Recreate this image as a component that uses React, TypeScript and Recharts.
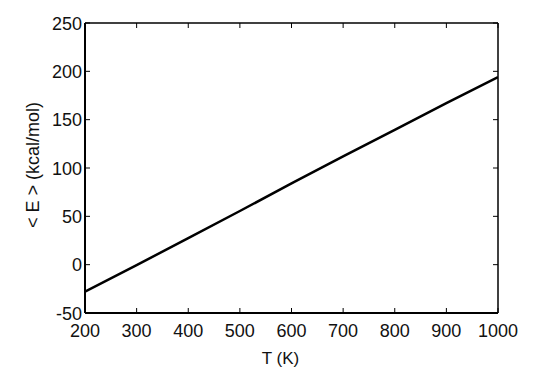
import React from 'react';
import { LineChart, Line, XAxis, YAxis, Label } from 'recharts';

const temperatures = [200, 300, 400, 500, 600, 700, 800, 900, 1000];
const energies = [-28, -0.5, 27.5, 55.5, 84, 112, 139.5, 167, 194];
const xTicks = [200, 300, 400, 500, 600, 700, 800, 900, 1000];
const yTicks = [-50, 0, 50, 100, 150, 200, 250];

const data = temperatures.map((t, i) => ({ T: t, E: energies[i] }));

const FONT = '"Liberation Sans", Arial, Helvetica, sans-serif';
const FS = 18;
const TICK_LEN = 5;

const BottomTick = (props: any) => {
  const { x, y, payload } = props;
  return (
    <g>
      <line x1={x} x2={x} y1={y} y2={y - TICK_LEN} stroke="#000" strokeWidth={1} />
      <text x={x} y={y + 24} textAnchor="middle" fontFamily={FONT} fontSize={FS} fill="#111">
        {payload.value}
      </text>
    </g>
  );
};

const TopTick = (props: any) => {
  const { x, y } = props;
  return <line x1={x} x2={x} y1={y} y2={y + TICK_LEN} stroke="#000" strokeWidth={1} />;
};

const LeftTick = (props: any) => {
  const { x, y, payload } = props;
  return (
    <g>
      <line x1={x} x2={x + TICK_LEN} y1={y} y2={y} stroke="#000" strokeWidth={1} />
      <text x={x - 3} y={y + 6.5} textAnchor="end" fontFamily={FONT} fontSize={FS} fill="#111">
        {payload.value}
      </text>
    </g>
  );
};

const RightTick = (props: any) => {
  const { x, y } = props;
  return <line x1={x} x2={x - TICK_LEN} y1={y} y2={y} stroke="#000" strokeWidth={1} />;
};

export default function App() {
  return (
    <div style={{ position: 'absolute', left: 0, top: 0, width: 545, height: 378, background: '#fff' }}>
      <LineChart
        width={545}
        height={378}
        data={data}
        margin={{ top: 22, right: 46, bottom: 0, left: 0 }}
      >
        <XAxis
          xAxisId="bottom"
          dataKey="T"
          type="number"
          domain={[200, 1000]}
          ticks={xTicks}
          allowDataOverflow
          orientation="bottom"
          height={65}
          tickSize={0}
          tickMargin={0}
          tickLine={false}
          axisLine={{ stroke: '#000', strokeWidth: 2 }}
          tick={<BottomTick />}
          interval={0}
        >
          <Label
            content={(p: any) => {
              const vb = p.viewBox;
              return (
                <text
                  x={vb.x + vb.width / 2 - 11}
                  y={vb.y + 51}
                  textAnchor="middle"
                  fontFamily={FONT}
                  fontSize={17}
                  fill="#111"
                >
                  T (K)
                </text>
              );
            }}
          />
        </XAxis>
        <XAxis
          xAxisId="top"
          dataKey="T"
          type="number"
          domain={[200, 1000]}
          ticks={xTicks}
          allowDataOverflow
          orientation="top"
          height={1}
          tickSize={0}
          tickMargin={0}
          tickLine={false}
          axisLine={{ stroke: '#000', strokeWidth: 1.5 }}
          tick={<TopTick />}
          interval={0}
        />
        <YAxis
          yAxisId="left"
          type="number"
          domain={[-50, 250]}
          ticks={yTicks}
          allowDataOverflow
          orientation="left"
          width={85}
          tickSize={0}
          tickMargin={0}
          tickLine={false}
          axisLine={{ stroke: '#000', strokeWidth: 2 }}
          tick={<LeftTick />}
          interval={0}
        >
          <Label
            content={() => (
              <text
                x={33}
                y={165}
                textAnchor="middle"
                dominantBaseline="central"
                transform="rotate(-90 33 165)"
                fontFamily={FONT}
                fontSize={FS}
                fill="#111"
              >
                {'< E > (kcal/mol)'}
              </text>
            )}
          />
        </YAxis>
        <YAxis
          yAxisId="right"
          type="number"
          domain={[-50, 250]}
          ticks={yTicks}
          allowDataOverflow
          orientation="right"
          width={1}
          tickSize={0}
          tickMargin={0}
          tickLine={false}
          axisLine={{ stroke: '#000', strokeWidth: 1.5 }}
          tick={<RightTick />}
          interval={0}
        />
        <Line
          xAxisId="top"
          yAxisId="right"
          type="linear"
          dataKey="E"
          stroke="none"
          strokeWidth={0}
          dot={false}
          legendType="none"
          isAnimationActive={false}
        />
        <Line
          xAxisId="bottom"
          yAxisId="left"
          type="linear"
          dataKey="E"
          stroke="#000"
          strokeWidth={2.5}
          dot={false}
          isAnimationActive={false}
        />
      </LineChart>
    </div>
  );
}
